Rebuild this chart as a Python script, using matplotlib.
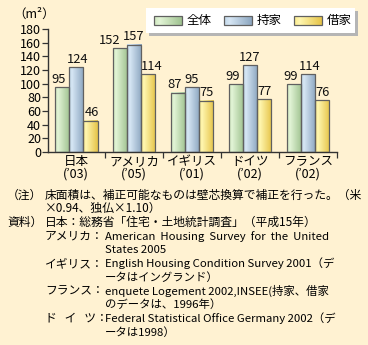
import numpy as np
import matplotlib
matplotlib.use("Agg")
import matplotlib.pyplot as plt
from matplotlib.colors import LinearSegmentedColormap
from matplotlib.patches import Rectangle

plt.rcParams["font.family"] = ["Noto Sans CJK JP", "DejaVu Sans"]

# ---------------------------------------------------------------------
# Data
# ---------------------------------------------------------------------
countries = ["日本", "アメリカ", "イギリス", "ドイツ", "フランス"]
years = ["’03", "’05", "’01", "’02", "’02"]
series = ["全体", "持家", "借家"]
total = [95, 152, 87, 99, 99]
owned = [124, 157, 95, 127, 114]
rented = [46, 114, 75, 77, 76]
yticks = [0, 20, 40, 60, 80, 100, 120, 140, 160, 180]

notes = [
    ("（注）", "床面積は、補正可能なものは壁芯換算で補正を行った。（米", None),
    (None, "×0.94、独仏×1.10）", None),
    ("資料）", "日本：総務省「住宅・土地統計調査」（平成15年）", None),
    (None, "アメリカ：", "American  Housing  Survey  for  the  United"),
    (None, None, "States 2005"),
    (None, "イギリス：", "English Housing Condition Survey 2001（デ"),
    (None, None, "ータはイングランド）"),
    (None, "フランス：", "enquete Logement 2002,INSEE(持家、借家"),
    (None, None, "のデータは、1996年）"),
    (None, "ド   イ   ツ：", "Federal Statistical Office Germany 2002（デ"),
    (None, None, "ータは1998）"),
]

BG = "#FFF2D2"
EDGE = "#606060"
GRADS = [
    ("#CFE8BF", "#E2F4D6", "#9FC290"),
    ("#C2D8EA", "#D6E6F4", "#8CA6C0"),
    ("#FCEB8C", "#FFF6B0", "#E6C448"),
]


def grad_cmap(cols):
    return LinearSegmentedColormap.from_list(
        "g", [(0.0, cols[0]), (0.2, cols[1]), (1.0, cols[2])])


GRAD = np.linspace(0, 1, 64).reshape(1, -1)

W, H = 368, 345
fig = plt.figure(figsize=(W / 100, H / 100), dpi=100, facecolor=BG)

# chart area in pixels: x 48..337, y 29..152 (from top)
ax = fig.add_axes([48 / W, 1 - 152 / H, 289 / W, 123 / H])
ax.set_facecolor("none")

x = np.arange(len(countries))
bw = 0.247
label_dx = [[-0.05, -0.17, -0.05, -0.05, -0.05],
            [0.03, 0.0, 0.0, 0.0, 0.03],
            [0.02, 0.06, 0.0, 0.0, 0.0]]
for k, vals in enumerate([total, owned, rented]):
    cmap = grad_cmap(GRADS[k])
    bars = ax.bar(x + (k - 1) * bw, vals, width=bw, facecolor="none",
                  edgecolor=EDGE, lw=0.9, zorder=3)
    for i, b in enumerate(bars):
        x0 = b.get_x()
        ax.imshow(GRAD, cmap=cmap, aspect="auto", zorder=2,
                  extent=[x0, x0 + b.get_width(), 0, b.get_height()])
        ax.text(x0 + b.get_width() / 2 + label_dx[k][i], b.get_height() + 2,
                str(vals[i]), ha="center", va="bottom", fontsize=9.3,
                color="#111111")

ax.set_xlim(-0.483, 4.5)
ax.set_ylim(0, 180)
ax.set_yticks(yticks)
ax.set_xticks(x)
ax.set_xticklabels([f"{c}\n({y})" for c, y in zip(countries, years)],
                   linespacing=0.95)
ax.set_xticks(x + 0.5, minor=True)
for s in ["top", "right"]:
    ax.spines[s].set_visible(False)
for s in ["left", "bottom"]:
    ax.spines[s].set_color("#333333")
    ax.spines[s].set_linewidth(1.0)
ax.tick_params(axis="y", length=4, width=0.9, pad=1, labelsize=9,
               color="#333333")
ax.tick_params(axis="x", which="major", length=0, pad=2, labelsize=9)
ax.tick_params(axis="x", which="minor", length=4, width=0.9, color="#333333")

# overlay in pixel coordinates for legend and notes
ov = fig.add_axes([0, 0, 1, 1])
ov.set_xlim(0, W)
ov.set_ylim(H, 0)
ov.axis("off")
ov.set_zorder(5)

ov.text(13, 14, "（m²）", fontsize=9, va="center", ha="left")

# legend box with shadow
ov.add_patch(Rectangle((149, 11), 209, 25, facecolor="#B5B5B5", lw=0))
ov.add_patch(Rectangle((146, 8), 209, 25, facecolor="white", lw=0))
leg_x = [154, 224, 294]
for k, name in enumerate(series):
    lx = leg_x[k]
    ov.imshow(GRAD, cmap=grad_cmap(GRADS[k]), aspect="auto", zorder=6,
              extent=[lx, lx + 28, 25, 16])
    ov.add_patch(Rectangle((lx, 16), 28, 9, facecolor="none",
                           edgecolor=EDGE, lw=0.9, zorder=7))
    ov.text(lx + 33, 20.5, name, fontsize=9, va="center", ha="left")

# notes
for i, (tag, head, tail) in enumerate(notes):
    yy = 195 + 13.7 * i
    if tag:
        ov.text(7, yy, tag, fontsize=8.5, va="center", ha="left")
    if head:
        ov.text(45, yy, head, fontsize=8.5, va="center", ha="left")
    if tail:
        ov.text(105, yy, tail, fontsize=8.2, va="center", ha="left")

fig.savefig("out.png", dpi=100, facecolor=BG)
